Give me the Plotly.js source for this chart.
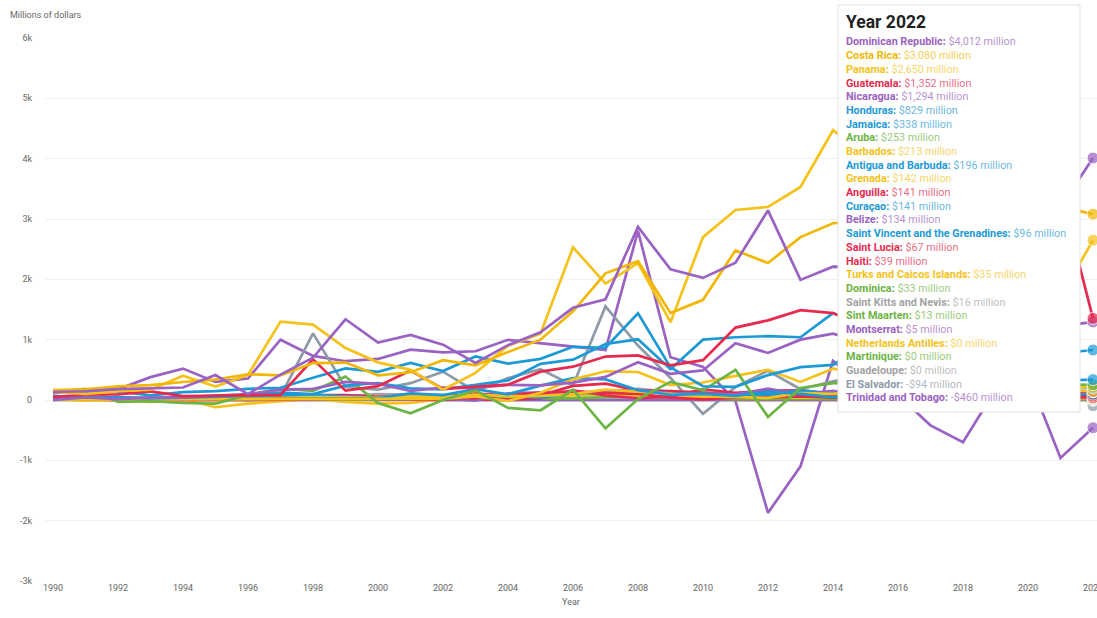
<!DOCTYPE html>
<html>
<head>
<meta charset="utf-8">
<script src="https://cdn.plot.ly/plotly-3.0.1.min.js"></script>
<style>
  html, body { margin: 0; padding: 0; background: #ffffff; }
  #chart { width: 1097px; height: 618px; }
</style>
</head>
<body>
<div id="chart"></div>
<script>
// ---------- DATA (millions of US dollars) ----------
const years = [1990,1991,1992,1993,1994,1995,1996,1997,1998,1999,2000,2001,2002,2003,2004,2005,2006,2007,2008,2009,2010,2011,2012,2013,2014,2015,2016,2017,2018,2019,2020,2021,2022];

const dominicanRepublic = [133,145,180,190,207,414,97,421,700,1338,953,1079,917,613,909,1123,1528,1667,2870,2165,2024,2277,3142,1991,2209,2205,2407,3571,2535,3021,2560,3197,4012];
const costaRica = [163,178,226,247,298,337,427,407,612,620,409,460,659,575,794,1000,1469,2100,2300,1440,1660,2480,2270,2700,2930,2950,2600,3000,2800,2700,1800,3200,3080];
const panama = [136,100,145,170,402,223,416,1300,1250,860,624,500,170,450,900,1100,2530,1930,2270,1290,2700,3150,3200,3530,4470,4100,5200,4200,4800,3600,600,1700,2650];
const guatemala = [48,91,94,143,65,75,77,84,673,155,230,488,183,218,255,470,552,720,738,574,660,1200,1320,1490,1440,1220,1170,1130,980,980,935,3460,1352];
const nicaragua = [1,42,15,39,40,75,97,173,184,300,267,150,204,201,250,241,287,382,626,434,490,940,780,1000,1100,950,899,838,359,503,747,1220,1294];
const honduras = [44,52,48,27,35,50,91,122,99,237,282,193,176,247,325,599,669,928,1006,509,1000,1040,1059,1040,1440,1204,1139,1186,1380,947,224,776,829];
const jamaica = [138,133,142,78,130,147,184,203,369,524,468,614,481,721,602,682,882,866,1437,541,228,218,413,545,582,925,928,889,775,665,265,320,338];
const aruba = [130,185,-30,-20,-50,-60,80,190,150,390,-50,-220,0,160,-130,-170,170,-470,15,300,160,500,-280,200,280,280,220,180,150,300,160,260,253];
const barbados = [11,7,14,9,13,12,13,15,16,17,19,19,17,58,-16,119,342,476,464,247,290,400,500,300,520,420,300,250,240,230,190,230,213];
const antiguaBarbuda = [61,55,20,15,25,31,19,23,27,37,33,111,80,179,95,238,361,341,161,85,101,68,138,101,46,114,78,150,200,130,80,250,196];
const grenada = [13,15,22,20,19,20,19,34,49,42,37,59,54,89,65,70,96,172,141,104,64,45,34,114,100,140,110,130,180,160,140,170,142];
const anguilla = [11,16,11,16,11,32,28,20,28,38,40,33,33,29,88,118,142,119,100,40,10,40,40,60,40,50,60,80,120,100,90,120,141];
const curacao = [null,null,null,null,null,null,null,null,null,null,null,null,null,null,null,null,null,null,null,null,null,60,69,132,100,140,70,150,120,80,120,100,141];
const belize = [17,14,16,9,15,21,17,12,18,56,23,61,25,-11,111,127,109,143,170,109,97,95,189,95,153,65,44,24,118,94,76,190,134];
const saintVincent = [8,9,19,31,47,31,43,93,89,57,38,21,34,55,66,41,109,121,159,111,97,86,115,160,110,120,100,160,100,85,70,100,96];
const saintLucia = [45,58,41,34,32,33,19,48,83,83,54,59,52,106,77,78,234,272,161,146,121,80,80,90,70,100,90,110,100,80,60,70,67];
const haiti = [8,14,-2,-2,0,7,4,4,11,30,13,4,6,14,6,26,161,75,29,55,178,119,156,162,99,106,105,375,105,75,25,51,39];
const turksCaicos = [5,6,8,10,12,15,18,20,22,25,30,35,40,45,50,60,80,90,70,50,40,45,50,40,45,50,40,35,45,40,30,40,35];
const dominica = [13,15,21,13,23,54,18,21,7,18,18,12,15,32,27,26,26,48,57,43,24,14,20,16,14,20,40,15,30,20,20,30,33];
const saintKitts = [49,19,13,14,15,20,36,20,32,58,96,88,80,76,46,93,110,141,184,136,119,112,110,139,120,150,120,40,30,50,20,30,16];
const sintMaarten = [null,null,null,null,null,null,null,null,null,null,null,null,null,null,null,null,null,null,null,null,null,60,20,40,30,50,40,30,20,30,10,20,13];
const montserrat = [12,10,6,6,10,3,0,3,3,8,3,1,1,2,2,1,4,7,13,3,3,2,1,4,4,1,1,1,1,1,1,2,5];
const netherlandsAntilles = [20,-10,0,-30,20,-120,-60,-20,20,-30,-60,-50,20,60,30,20,80,70,60,40,30,0,0,0,0,0,0,0,0,0,0,0,0];
const martinique = [0,0,0,0,0,0,0,0,0,0,0,0,0,0,0,0,0,0,0,0,0,0,0,0,0,0,0,0,0,0,0,0,0];
const guadeloupe = [0,0,0,0,0,0,0,0,0,0,0,0,0,0,0,0,0,0,0,0,0,0,0,0,0,0,0,0,0,0,0,0,0];
const elSalvador = [2,25,15,16,0,38,-5,59,1104,216,173,279,470,142,363,511,241,1551,903,366,-230,218,484,179,311,396,347,889,826,636,277,320,-94];
const trinidadTobago = [109,169,178,379,521,299,356,1000,732,643,680,835,791,808,998,940,883,830,2801,709,549,-20,-1870,-1100,650,180,80,-420,-700,170,400,-960,-460];

const countryNames = ["Dominican Republic","Costa Rica","Panama","Guatemala","Nicaragua","Honduras","Jamaica","Aruba","Barbados","Antigua and Barbuda","Grenada","Anguilla","Curaçao","Belize","Saint Vincent and the Grenadines","Saint Lucia","Haiti","Turks and Caicos Islands","Dominica","Saint Kitts and Nevis","Sint Maarten","Montserrat","Netherlands Antilles","Martinique","Guadeloupe","El Salvador","Trinidad and Tobago"];
const countrySeries = [dominicanRepublic,costaRica,panama,guatemala,nicaragua,honduras,jamaica,aruba,barbados,antiguaBarbuda,grenada,anguilla,curacao,belize,saintVincent,saintLucia,haiti,turksCaicos,dominica,saintKitts,sintMaarten,montserrat,netherlandsAntilles,martinique,guadeloupe,elSalvador,trinidadTobago];

const yTickVals = [-3000,-2000,-1000,0,1000,2000,3000,4000,5000,6000];
const yTickText = ["-3k","-2k","-1k","0","1k","2k","3k","4k","5k","6k"];
const xTickVals = [1990,1992,1994,1996,1998,2000,2002,2004,2006,2008,2010,2012,2014,2016,2018,2020,2022];
const tooltipYear = 2022;

// ---------- STYLE ----------
const C = {
  purple: "#9a62c2", yellow: "#f5c21b", gold: "#f2b705", red: "#e62a4e",
  blue: "#1d9ad6", green: "#6cb443", gray: "#a3a3a3", slate: "#8e9aa8"
};
const countryColors = [C.purple,C.gold,C.yellow,C.red,C.purple,C.blue,C.blue,C.green,C.yellow,C.blue,C.yellow,C.red,C.blue,C.purple,C.blue,C.red,C.red,C.yellow,C.green,C.gray,C.green,C.purple,C.yellow,C.green,C.gray,C.slate,C.purple];

function hexA(hex, a) {
  const n = parseInt(hex.slice(1), 16);
  return `rgba(${(n>>16)&255},${(n>>8)&255},${n&255},${a})`;
}

const lastIdx = years.indexOf(tooltipYear);
const traces = [];
for (let k = countryNames.length - 1; k >= 0; k--) {
  traces.push({
    type: "scatter",
    mode: "lines+markers",
    x: years,
    y: countrySeries[k],
    name: countryNames[k],
    line: { color: countryColors[k], width: 2.7 },
    marker: { color: countryColors[k], size: years.map(y => y === tooltipYear ? 12 : 0) },
    connectgaps: false,
    hoverinfo: "skip",
    showlegend: false
  });
}

// ---------- GEOMETRY (pixels -> paper) ----------
const W = 1097, H = 618, ML = 45, MR = 0, MT = 38, MB = 37;
const PW = W - ML - MR, PH = H - MT - MB;
const px = x => (x - ML) / PW;
const py = y => (H - MB - y) / PH;

const fmt = v => {
  const n = (v == null ? 0 : v);
  const s = Math.abs(n).toLocaleString("en-US");
  return (n < 0 ? "-$" : "$") + s + " million";
};

const annotations = [
  { xref: "paper", yref: "paper", x: px(8), y: py(15), xanchor: "left", yanchor: "middle",
    text: "Millions of dollars", showarrow: false,
    font: { family: "Roboto, sans-serif", size: 9, color: "#666" } },
  { xref: "paper", yref: "paper", x: px(844), y: py(22), xanchor: "left", yanchor: "middle",
    text: "<b>Year " + tooltipYear + "</b>", showarrow: false,
    font: { family: "Roboto, sans-serif", size: 17.5, color: "#222" } }
];
const order = countryNames.map((n, i) => i)
  .sort((a, b) => ((countrySeries[b][lastIdx] ?? 0) - (countrySeries[a][lastIdx] ?? 0)));
order.forEach((k, i) => {
  const col = countryColors[k];
  annotations.push({
    xref: "paper", yref: "paper", x: px(844), y: py(42 + i * 13.69),
    xanchor: "left", yanchor: "middle", showarrow: false,
    text: "<b>" + countryNames[k] + ":</b> <span style='color:" + hexA(col, 0.72) + "'>" + fmt(countrySeries[k][lastIdx]) + "</span>",
    font: { family: "Roboto, sans-serif", size: 10.8, color: col }
  });
});

const layout = {
  width: W, height: H,
  margin: { l: ML, r: MR, t: MT, b: MB, pad: 0 },
  paper_bgcolor: "#ffffff", plot_bgcolor: "#ffffff",
  showlegend: false, hovermode: false,
  xaxis: {
    range: [1990 - 8 / 32.53, 2022 + 4 / 32.53],
    tickvals: xTickVals, ticktext: xTickVals.map(String),
    showgrid: false, zeroline: false, showline: false, ticks: "",
    ticklabeloverflow: "allow",
    tickfont: { family: "Roboto, sans-serif", size: 9, color: "#666" },
    title: { text: "Year", standoff: 6, font: { family: "Roboto, sans-serif", size: 9, color: "#666" } }
  },
  yaxis: {
    range: [-3000, 6000],
    tickvals: yTickVals, ticktext: yTickText,
    showgrid: true, gridcolor: "#f1f1f1", gridwidth: 1,
    zeroline: false, showline: false, ticks: "",
    ticklabelstandoff: 12,
    tickfont: { family: "Roboto, sans-serif", size: 9, color: "#666" }
  },
  shapes: [
    { type: "rect", xref: "paper", yref: "paper", layer: "above",
      x0: px(838), x1: px(1080), y0: py(412), y1: py(5),
      fillcolor: "#ffffff", line: { color: "#e2e2e2", width: 1 } }
  ],
  annotations: annotations
};

Plotly.newPlot("chart", traces, layout, { displayModeBar: false, staticPlot: true });
</script>
</body>
</html>
